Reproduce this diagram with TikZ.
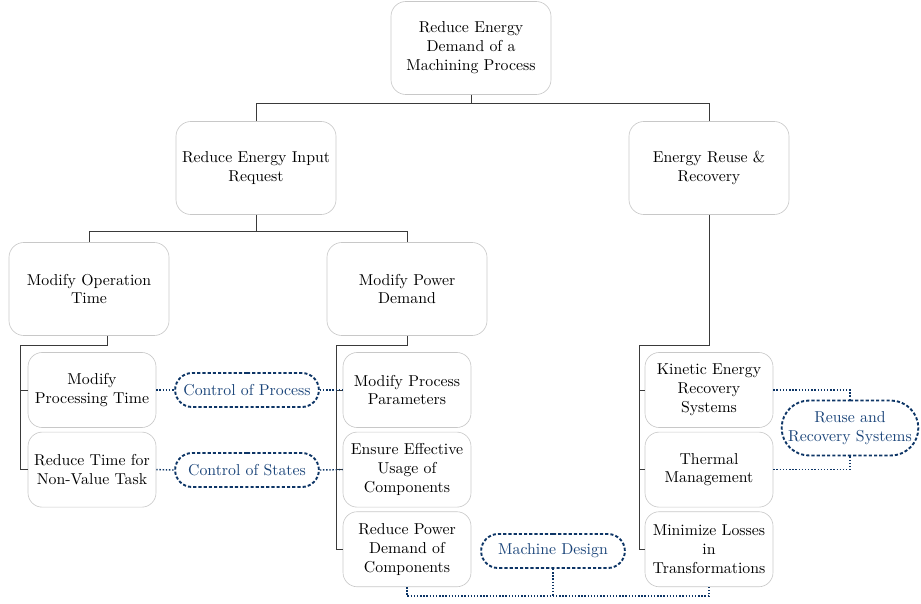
\documentclass[tikz,border=0pt]{standalone}
\usepackage{xcolor}
\usepackage{tikz}
\usetikzlibrary{shapes.misc,positioning,calc}

\definecolor{boxgray}{HTML}{C8C8C8}
\definecolor{linegray}{HTML}{3A3A3A}
\definecolor{tagblue}{HTML}{0D3566}
\definecolor{tagtext}{HTML}{1A4479}

\begin{document}
\begin{tikzpicture}[
    x=0.633pt, y=-0.633pt,
    box/.style={rectangle,draw=boxgray,line width=0.4pt,rounded corners=9.5pt,
        minimum width=101.3pt,minimum height=58.9pt,align=center,inner sep=2pt},
    subbox/.style={rectangle,draw=boxgray,line width=0.4pt,rounded corners=9pt,
        minimum width=81pt,minimum height=47.5pt,align=center,inner sep=2pt},
    tag/.style={rounded rectangle,draw=tagblue,dash pattern=on 2pt off 1.3pt,line width=1.2pt,
        text=tagtext,minimum width=95pt,minimum height=21.5pt,align=center,inner sep=2pt},
    link/.style={draw=linegray,line width=0.6pt},
    dotlink/.style={draw=tagblue,dash pattern=on 0.9pt off 1.1pt,line width=0.9pt}
]
    \useasboundingbox (0,0) rectangle (921,604);

    % main tree
    \node[box] (root) at (471,48) {Reduce Energy\\Demand of a\\Machining Process};
    \node[box] (input) at (256,168) {Reduce Energy Input\\Request};
    \node[box] (reuse) at (709,168) {Energy Reuse \&\\Recovery};
    \node[box] (optime) at (89,289) {Modify Operation\\Time};
    \node[box] (power) at (407,289) {Modify Power\\Demand};

    % leaves
    \node[subbox] (proctime) at (92,390) {Modify\\Processing Time};
    \node[subbox,below=2.5pt of proctime] (nonvalue) {Reduce Time for\\Non-Value Task};
    \node[subbox] (params) at (407,390) {Modify Process\\Parameters};
    \node[subbox,below=2.5pt of params] (usage) {Ensure Effective\\Usage of\\Components};
    \node[subbox,below=2.5pt of usage] (compdemand) {Reduce Power\\Demand of\\Components};
    \node[subbox] (kinetic) at (709,390) {Kinetic Energy\\Recovery\\Systems};
    \node[subbox,below=2.5pt of kinetic] (thermal) {Thermal\\Management};
    \node[subbox,below=2.5pt of thermal] (losses) {Minimize Losses\\in\\Transformations};

    % strategy tags
    \node[tag] (ctrlproc) at (247,390) {Control of Process};
    \node[tag] (ctrlstate) at (247,470) {Control of States};
    \node[tag] (design) at (553,551) {Machine Design};
    \node[tag,minimum width=90.5pt,minimum height=34.8pt] (recsys) at (850,428) {Reuse and\\Recovery Systems};

    % solid connectors
    \draw[link] (root.south) -- ++(0,9) -| (input.north);
    \draw[link] (root.south) -- ++(0,9) -| (reuse.north);
    \draw[link] (input.south) -- ++(0,17) -| (optime.north);
    \draw[link] (input.south) -- ++(0,17) -| (power.north);

    \coordinate (optime-spine) at (20,345);
    \draw[link] ([shift={(18,0)}]optime.south) |- (optime-spine) |- (nonvalue.west);
    \draw[link] (optime-spine |- proctime.west) -- (proctime.west);

    \coordinate (power-spine) at (336,345);
    \draw[link] (power.south) |- (power-spine) |- (compdemand.west);
    \draw[link] (power-spine |- params.west) -- (params.west);
    \draw[link] (power-spine |- usage.west) -- (usage.west);

    \coordinate (reuse-spine) at (639,345);
    \draw[link] (reuse.south) |- (reuse-spine) |- (losses.west);
    \draw[link] (reuse-spine |- kinetic.west) -- (kinetic.west);
    \draw[link] (reuse-spine |- thermal.west) -- (thermal.west);

    % dotted connectors
    \draw[dotlink] (proctime.east) -- (ctrlproc.west);
    \draw[dotlink] (ctrlproc.east) -- (params.west);
    \draw[dotlink] (nonvalue.east) -- (ctrlstate.west);
    \draw[dotlink] (ctrlstate.east) -- (usage.west);
    \draw[dotlink] (kinetic.east) -| (recsys.north);
    \draw[dotlink] (thermal.east) -| (recsys.south);
    \coordinate (bus) at ($(compdemand.south)+(0,9)$);
    \draw[dotlink] (compdemand.south) -- (bus) -| (losses.south);
    \draw[dotlink] (design.south) -- (design.south |- bus);
\end{tikzpicture}
\end{document}
